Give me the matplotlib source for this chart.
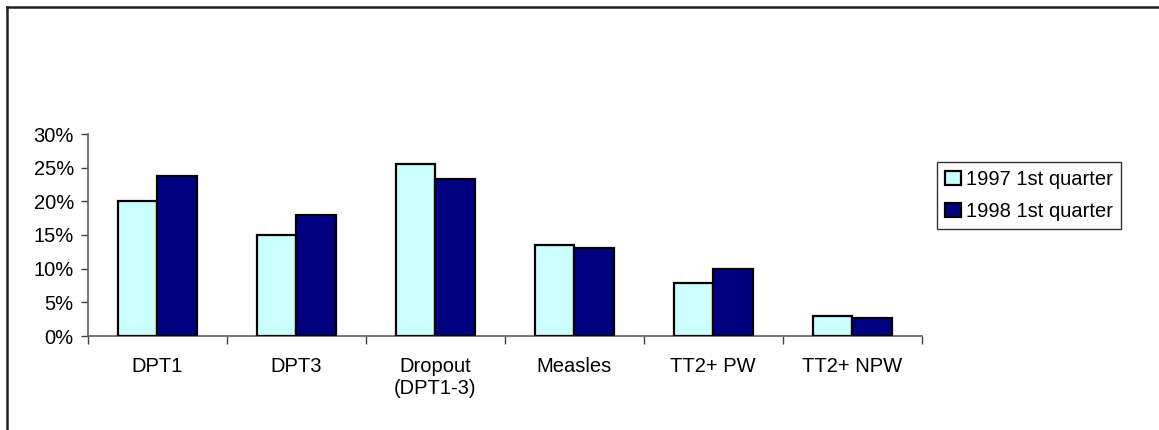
import matplotlib
matplotlib.use("Agg")
import matplotlib.pyplot as plt
import numpy as np
from matplotlib.lines import Line2D

plt.rcParams['font.family'] = ['Liberation Sans', 'DejaVu Sans']

categories = ["DPT1", "DPT3", "Dropout\n(DPT1-3)", "Measles", "TT2+ PW", "TT2+ NPW"]
series_names = ["1997 1st quarter", "1998 1st quarter"]
vals_1997 = [20.0, 15.0, 25.5, 13.5, 7.8, 2.9]
vals_1998 = [23.7, 18.0, 23.3, 13.1, 10.0, 2.6]
yticks = [0, 5, 10, 15, 20, 25, 30]
colors = ["#CCFFFF", "#000080"]

W, H = 1159, 430
FS = 14.5
fig = plt.figure(figsize=(W / 100, H / 100), dpi=100)
ax = fig.add_axes([87.7 / W, 1 - 336 / H, (921.7 - 87.7) / W, (336 - 134) / H])

x = np.arange(len(categories))
bw = 0.285
ax.bar(x - bw / 2, vals_1997, bw, color=colors[0], edgecolor="black", linewidth=1.6,
       label=series_names[0], zorder=3)
ax.bar(x + bw / 2, vals_1998, bw, color=colors[1], edgecolor="black", linewidth=1.6,
       label=series_names[1], zorder=3)

ax.set_xlim(-0.5, len(categories) - 0.5)
ax.set_ylim(0, 30)
ax.set_yticks(yticks)
ax.set_yticklabels([f"{v}%" for v in yticks], fontsize=FS)
ax.set_xticks(x)
ax.set_xticklabels(categories, fontsize=FS, linespacing=1.2)
ax.set_xticks(np.arange(-0.5, len(categories), 1.0), minor=True)
ax.tick_params(axis='x', which='major', length=0, pad=15)
ax.tick_params(axis='x', which='minor', length=6, width=1, color='#404040')
ax.tick_params(axis='y', length=5, width=1, color='#404040', pad=5)

for s in ["top", "right"]:
    ax.spines[s].set_visible(False)
for s in ["left", "bottom"]:
    ax.spines[s].set_color('#606060')
    ax.spines[s].set_linewidth(1.2)

leg = fig.legend(loc='upper left', bbox_to_anchor=(937 / W, 1 - 162 / H), fontsize=FS,
                 frameon=True, fancybox=False, edgecolor='black', handlelength=0.75,
                 handleheight=0.7, handletextpad=0.25, borderpad=0.42, labelspacing=0.62,
                 borderaxespad=0)
leg.get_frame().set_linewidth(1.0)

# figure border (top and left)
fig.add_artist(Line2D([6.5 / W, 1.0], [1 - 6.5 / H, 1 - 6.5 / H], transform=fig.transFigure,
                      color='#202020', linewidth=1.8))
fig.add_artist(Line2D([6.5 / W, 6.5 / W], [0.0, 1 - 6.5 / H], transform=fig.transFigure,
                      color='#202020', linewidth=1.8))

fig.savefig("out.png", dpi=100)
